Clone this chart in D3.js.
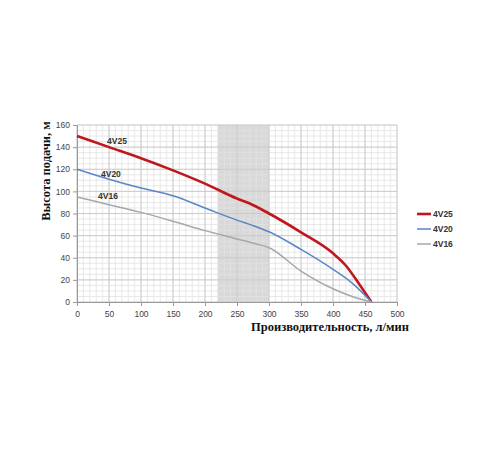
<!DOCTYPE html>
<html><head><meta charset="utf-8">
<script src="https://cdn.jsdelivr.net/npm/d3@7"></script>
<style>body{margin:0;background:#fff}</style>
</head><body>
<script>
const seriesNames = ["4V25", "4V20", "4V16"];
const colors = ["#c0171d", "#5a86c6", "#a8a8a8"];
const widths = [2.6, 1.5, 1.5];
const flow25 = [0, 50, 100, 150, 200, 250, 270, 300, 350, 400, 420, 440, 460];
const head25 = [150, 140, 130, 119, 107, 93.5, 89, 80, 63, 44, 33, 17, 0];
const flow20 = [0, 50, 100, 150, 200, 250, 280, 300, 350, 400, 430, 460];
const head20 = [120, 111, 103, 96, 85, 74, 68, 63.5, 47.5, 29.5, 17, 0];
const flow16 = [0, 50, 100, 150, 200, 250, 280, 300, 350, 400, 430, 460];
const head16 = [95, 88, 81, 73, 64.5, 57, 52.5, 49, 28, 12, 5, 0];
const xTicks = [0, 50, 100, 150, 200, 250, 300, 350, 400, 450, 500];
const yTicks = [0, 20, 40, 60, 80, 100, 120, 140, 160];
const band = [220, 300];
const labelX = [47, 37.5, 33];
const labelY = [142.8, 113, 93];
const xTitle = "Производительность, л/мин";
const yTitle = "Высота подачи, м";

const W = 500, H = 450;
const svg = d3.select("body").append("svg").attr("width", W).attr("height", H);
const x = d3.scaleLinear().domain([0, 500]).range([77, 397]);
const y = d3.scaleLinear().domain([0, 160]).range([302, 125]);

svg.append("rect").attr("x", x(band[0])).attr("y", y(160))
  .attr("width", x(band[1]) - x(band[0])).attr("height", y(0) - y(160)).attr("fill", "#d9d9d9");

const g = svg.append("g");
d3.range(0, 501, 10).forEach(v => g.append("line").attr("x1", x(v)).attr("x2", x(v))
  .attr("y1", y(0)).attr("y2", y(160)).attr("stroke", "#e2e2e2").attr("stroke-width", 0.8));
d3.range(0, 161, 5).forEach(v => g.append("line").attr("y1", y(v)).attr("y2", y(v))
  .attr("x1", x(0)).attr("x2", x(500)).attr("stroke", "#e2e2e2").attr("stroke-width", 0.8));
xTicks.forEach(v => g.append("line").attr("x1", x(v)).attr("x2", x(v))
  .attr("y1", y(0)).attr("y2", y(160)).attr("stroke", "#c4c4c4").attr("stroke-width", 0.8));
yTicks.forEach(v => g.append("line").attr("y1", y(v)).attr("y2", y(v))
  .attr("x1", x(0)).attr("x2", x(500)).attr("stroke", "#c4c4c4").attr("stroke-width", 0.8));

const xAx = svg.append("g").attr("transform", `translate(0,${y(0)})`)
  .call(d3.axisBottom(x).tickValues(xTicks).tickSize(4).tickPadding(5));
const yAx = svg.append("g").attr("transform", `translate(${x(0)},0)`)
  .call(d3.axisLeft(y).tickValues(yTicks).tickSize(4).tickPadding(3));
[xAx, yAx].forEach(a => {
  a.select(".domain").attr("stroke", "#999");
  a.selectAll(".tick line").attr("stroke", "#999");
  a.selectAll("text").attr("fill", "#444").attr("font-family", "Liberation Sans, Arial, sans-serif").attr("font-size", 8.5);
});

const data = [[flow25, head25], [flow20, head20], [flow16, head16]];
const line = d3.line().x(d => x(d[0])).y(d => y(d[1])).curve(d3.curveMonotoneX);
data.forEach((s, i) => {
  const pts = s[0].map((f, j) => [f, s[1][j]]);
  svg.append("path").datum(pts).attr("d", line).attr("fill", "none")
    .attr("stroke", colors[i]).attr("stroke-width", widths[i]);
});

seriesNames.forEach((n, i) => {
  svg.append("text").attr("x", x(labelX[i])).attr("y", y(labelY[i])).text(n)
    .attr("font-family", "Liberation Sans, Arial, sans-serif").attr("font-size", 8.5)
    .attr("font-weight", "bold").attr("fill", "#333");
});

seriesNames.forEach((n, i) => {
  const yy = 214 + i * 15;
  svg.append("line").attr("x1", 417).attr("x2", 431).attr("y1", yy).attr("y2", yy)
    .attr("stroke", colors[i]).attr("stroke-width", widths[i]);
  svg.append("text").attr("x", 433).attr("y", yy + 3).text(n)
    .attr("font-family", "Liberation Sans, Arial, sans-serif").attr("font-size", 8.5)
    .attr("font-weight", "bold").attr("fill", "#333");
});

svg.append("text").attr("x", 330).attr("y", 331).attr("text-anchor", "middle").text(xTitle)
  .attr("font-family", "Liberation Serif, Times New Roman, serif").attr("font-size", 12.5)
  .attr("font-weight", "bold").attr("fill", "#111");
svg.append("text").attr("transform", "translate(50,171) rotate(-90)").attr("text-anchor", "middle").text(yTitle)
  .attr("font-family", "Liberation Serif, Times New Roman, serif").attr("font-size", 12.5)
  .attr("font-weight", "bold").attr("fill", "#111");
</script>
</body></html>
